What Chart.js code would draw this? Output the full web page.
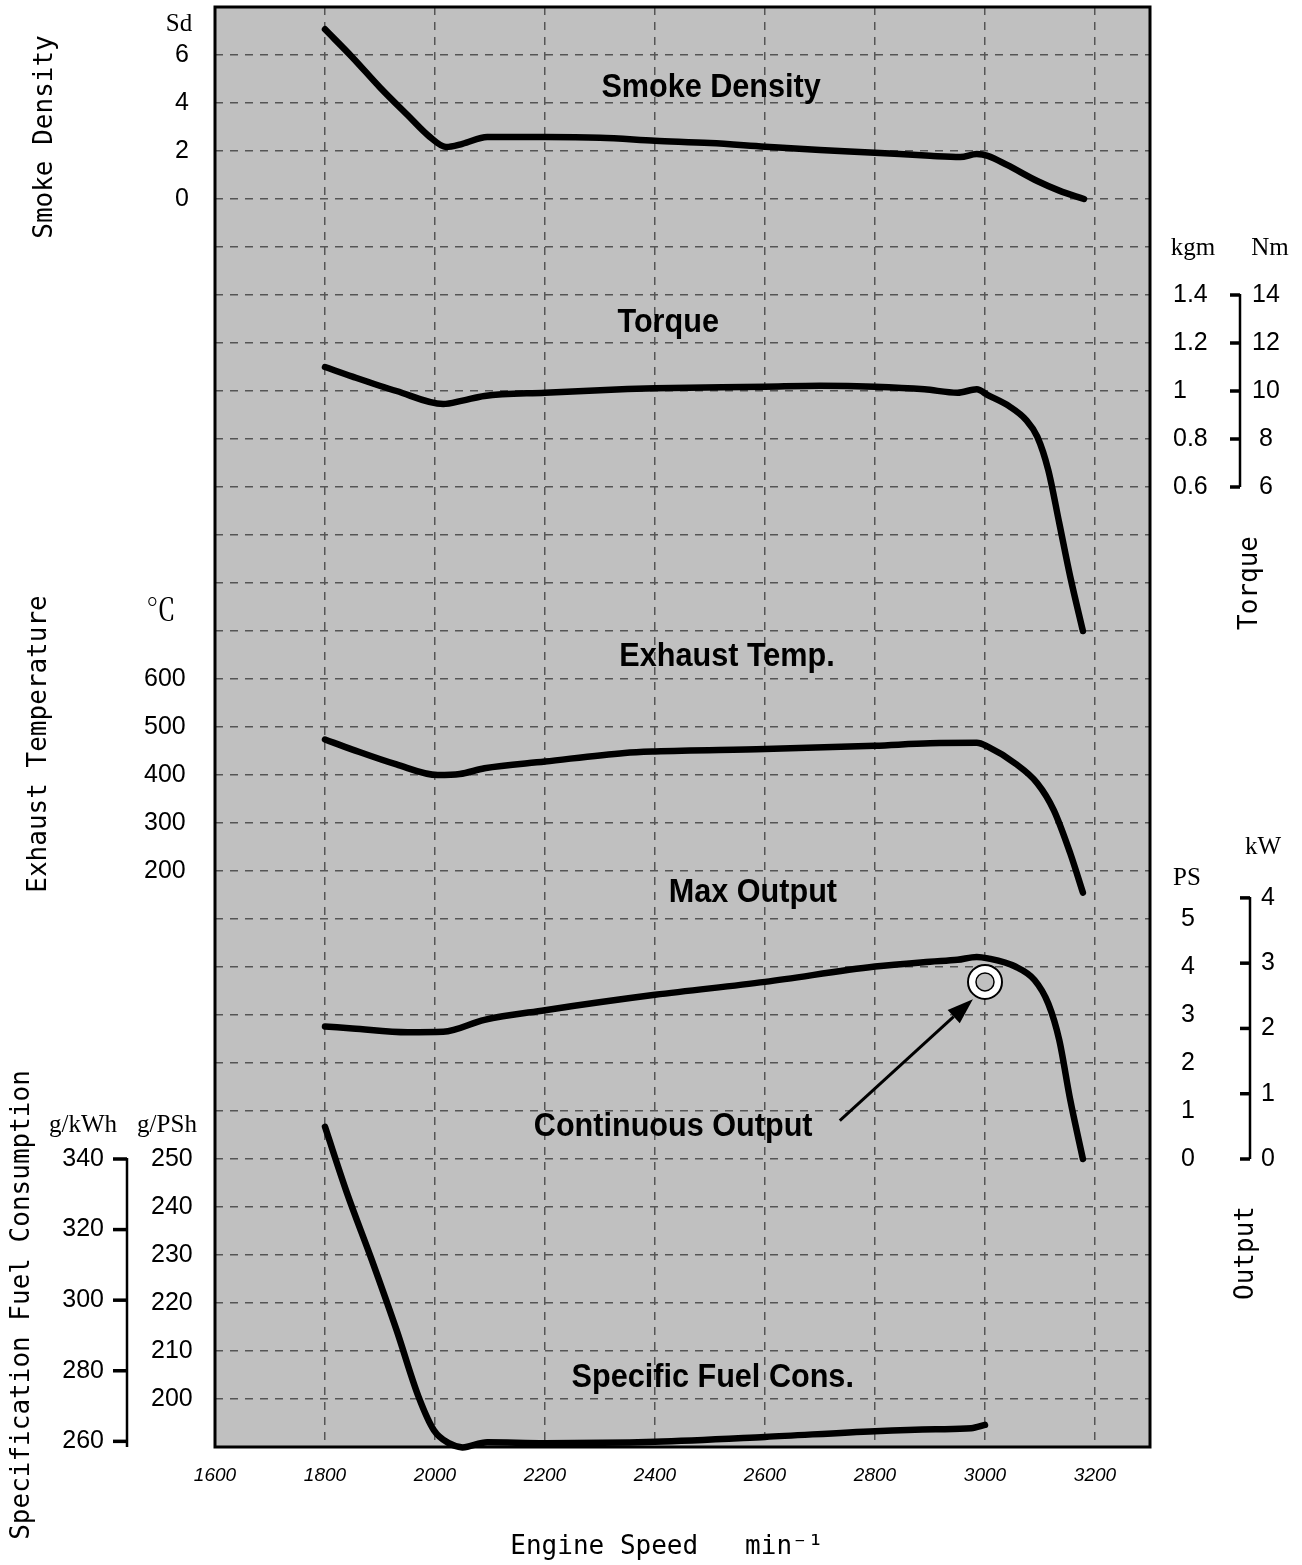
<!DOCTYPE html>
<html>
<head>
<meta charset="utf-8">
<title>Engine performance curves</title>
<script src="https://cdn.jsdelivr.net/npm/chart.js@4.4.1/dist/chart.umd.min.js"></script>
<style>
  html, body { margin: 0; padding: 0; background: #fff; }
  #wrap { position: relative; width: 1302px; height: 1565px; }
</style>
</head>
<body>
<div id="wrap"><canvas id="perfChart"></canvas></div>
<script>
// tick labels
const rpmTicks = [1600, 1800, 2000, 2200, 2400, 2600, 2800, 3000, 3200];
const smokeTicks = [0, 2, 4, 6];
const kgmTicks = [0.6, 0.8, 1, 1.2, 1.4];
const nmTicks = [6, 8, 10, 12, 14];
const tempTicks = [200, 300, 400, 500, 600];
const psTicks = [0, 1, 2, 3, 4, 5];
const kwTicks = [0, 1, 2, 3, 4];
const pshTicks = [200, 210, 220, 230, 240, 250];
const kwhTicks = [260, 280, 300, 320, 340];
const gridRows = [0, 1, 2, 3, 4, 5, 6, 7, 8, 9, 10, 11, 12, 13, 14, 15, 16, 17, 18, 19, 20, 21, 22, 23, 24, 25, 26, 27, 28, 29, 30];

// curves
const smokeRpm = [1800, 1850, 1900, 1950, 1990, 2020, 2050, 2095, 2200, 2300, 2400, 2500, 2600, 2700, 2800, 2900, 2955, 2985, 3005, 3040, 3095, 3135, 3180];
const smokeSd = [7.07, 5.9, 4.65, 3.5, 2.6, 2.17, 2.3, 2.58, 2.58, 2.55, 2.43, 2.33, 2.18, 2.04, 1.93, 1.8, 1.75, 1.87, 1.8, 1.42, 0.75, 0.35, 0];

const torqueRpm = [1800, 1850, 1930, 2015, 2050, 2090, 2200, 2350, 2400, 2600, 2700, 2800, 2890, 2950, 2985, 3005, 3045, 3075, 3095, 3115, 3135, 3155, 3178];
const torqueKgm = [1.1, 1.06, 1.0, 0.946, 0.96, 0.979, 0.993, 1.008, 1.011, 1.018, 1.022, 1.018, 1.007, 0.993, 1.007, 0.983, 0.935, 0.879, 0.81, 0.671, 0.45, 0.226, 0];

const exhaustRpm = [1800, 1850, 1930, 2005, 2045, 2090, 2200, 2345, 2400, 2600, 2800, 2900, 2985, 3005, 3055, 3095, 3125, 3155, 3178];
const exhaustC = [474, 453, 422, 400, 402, 414, 428, 446, 449, 454, 461, 466, 467, 459, 424, 383, 327, 237, 155];

const outputRpm = [1800, 1850, 1950, 2015, 2090, 2200, 2400, 2600, 2800, 2900, 2950, 2985, 3005, 3055, 3090, 3115, 3135, 3155, 3178];
const outputPs = [2.76, 2.72, 2.64, 2.65, 2.9, 3.1, 3.42, 3.69, 4.01, 4.11, 4.15, 4.21, 4.18, 4.01, 3.73, 3.24, 2.48, 1.23, 0];

const fuelRpm = [1800, 1840, 1885, 1930, 1970, 1998, 2025, 2050, 2095, 2200, 2400, 2600, 2800, 2910, 2975, 3000];
const fuelPsh = [256.7, 242.9, 229.0, 214.4, 200.5, 193.5, 190.8, 189.9, 191.0, 190.8, 191.1, 192.1, 193.3, 193.7, 193.9, 194.6];

const contRpm = [3000];
const contPs = [3.69];

const black = '#000';
const plotGray = '#c0c0c0';
const gridGray = '#555';
const numFont = { family: "'Liberation Sans', Arial, sans-serif", size: 25 };
const unitFont = "25px 'Liberation Serif', 'Times New Roman', 'Noto Serif CJK JP', serif";
const titleFont = "26px 'DejaVu Sans Mono', monospace";
const noteFont = "bold 34px 'Liberation Sans', Arial, sans-serif";

function zip(xs, ys) {
  return xs.map((x, i) => ({ x: x, y: ys[i] }));
}

function curve(label, xs, ys, axis) {
  return {
    label: label,
    data: zip(xs, ys),
    yAxisID: axis,
    borderColor: black,
    borderWidth: 6.5,
    pointRadius: 0,
    cubicInterpolationMode: 'monotone',
    borderCapStyle: 'round',
    borderJoinStyle: 'round',
    clip: false,
    order: 3
  };
}

// value axes share the plot height; labels are placed with padding
// (mirror = true keeps Chart.js from clipping labels to a zero-width box)
function valueAxis(o) {
  return {
    type: 'linear',
    position: o.position,
    min: o.min,
    max: o.max,
    weight: o.weight,
    grid: { display: false, drawTicks: false },
    border: { display: false },
    ticks: {
      color: black,
      font: numFont,
      padding: o.padding,
      mirror: !!o.mirror,
      autoSkip: false,
      crossAlign: o.align || 'near',
      callback: v => String(v)
    },
    afterBuildTicks: s => { s.ticks = o.ticks.map(v => ({ value: v })); },
    afterFit: s => {
      s.width = o.width;
      s.paddingTop = 0;
      s.paddingBottom = 0;
    }
  };
}

function vText(ctx, text, x, y) {
  ctx.save();
  ctx.translate(x, y);
  ctx.rotate(-Math.PI / 2);
  ctx.textAlign = 'center';
  ctx.textBaseline = 'middle';
  ctx.fillText(text, 0, 0);
  ctx.restore();
}

function bracket(ctx, scale, ticks, lineX, tickLen, bottomY) {
  const ys = ticks.map(v => scale.getPixelForValue(v));
  const top = Math.min(...ys);
  const bottom = bottomY !== undefined ? bottomY : Math.max(...ys);
  ctx.save();
  ctx.strokeStyle = black;
  ctx.lineWidth = 2.5;
  ctx.beginPath();
  ctx.moveTo(lineX, top - 1);
  ctx.lineTo(lineX, bottom);
  ctx.stroke();
  ctx.lineWidth = 3.5;
  ys.forEach(y => {
    ctx.beginPath();
    ctx.moveTo(lineX - tickLen, y);
    ctx.lineTo(lineX, y);
    ctx.stroke();
  });
  ctx.restore();
}

const decor = {
  id: 'decor',
  beforeDraw(chart) {
    const { ctx, chartArea: a } = chart;
    ctx.save();
    ctx.fillStyle = plotGray;
    ctx.fillRect(a.left, a.top, a.right - a.left, a.bottom - a.top);
    ctx.restore();
  },
  afterDraw(chart) {
    const { ctx, chartArea: a, scales } = chart;

    // frame
    ctx.save();
    ctx.strokeStyle = black;
    ctx.lineWidth = 3;
    ctx.strokeRect(a.left, a.top, a.right - a.left, a.bottom - a.top);
    ctx.restore();

    // scale brackets
    bracket(ctx, scales.kwh, kwhTicks, a.left - 88, 14, a.bottom);
    bracket(ctx, scales.nm, nmTicks, a.right + 90, 10);
    bracket(ctx, scales.kw, kwTicks, a.right + 100, 10);

    // units
    ctx.save();
    ctx.fillStyle = black;
    ctx.font = unitFont;
    ctx.textAlign = 'center';
    ctx.textBaseline = 'middle';
    ctx.fillText('Sd', 179, 24);
    ctx.fillText('g/kWh', 83, 1125);
    ctx.fillText('g/PSh', 167, 1125);
    ctx.fillText('kgm', 1193, 248);
    ctx.fillText('Nm', 1270, 248);
    ctx.fillText('PS', 1187, 878);
    ctx.fillText('kW', 1263, 847);
    ctx.font = "30px 'Liberation Serif', 'Noto Serif CJK JP', serif";
    ctx.fillText('℃', 161, 612);

    // axis titles
    ctx.font = titleFont;
    vText(ctx, 'Smoke Density', 45, 137);
    vText(ctx, 'Exhaust Temperature', 39, 744);
    vText(ctx, 'Specification Fuel Consumption', 22, 1305);
    vText(ctx, 'Torque', 1250, 583);
    vText(ctx, 'Output', 1246, 1253);

    // curve names, placed in rpm / grid-row units, slightly condensed
    const notes = [
      ['Smoke Density', 2502, 28.31],
      ['Torque', 2424, 23.42],
      ['Exhaust Temp.', 2531, 16.46],
      ['Max Output', 2578, 11.54],
      ['Continuous Output', 2433, 6.67],
      ['Specific Fuel Cons.', 2505, 1.44]
    ];
    ctx.font = noteFont;
    notes.forEach(([t, x, r]) => {
      ctx.save();
      ctx.translate(scales.x.getPixelForValue(x), scales.grid.getPixelForValue(r));
      ctx.scale(0.9, 1);
      ctx.fillText(t, 0, 0);
      ctx.restore();
    });

    // arrow to the continuous output point
    const x0 = scales.x.getPixelForValue(2736), y0 = scales.ps.getPixelForValue(0.8);
    const x1 = scales.x.getPixelForValue(2978), y1 = scales.ps.getPixelForValue(3.33);
    const ang = Math.atan2(y1 - y0, x1 - x0);
    const headLen = 26, headW = 9;
    const bx = x1 - headLen * Math.cos(ang), by = y1 - headLen * Math.sin(ang);
    ctx.strokeStyle = black;
    ctx.lineWidth = 3;
    ctx.beginPath();
    ctx.moveTo(x0, y0);
    ctx.lineTo(bx, by);
    ctx.stroke();
    ctx.beginPath();
    ctx.moveTo(x1, y1);
    ctx.lineTo(bx + headW * Math.sin(ang), by - headW * Math.cos(ang));
    ctx.lineTo(bx - headW * Math.sin(ang), by + headW * Math.cos(ang));
    ctx.closePath();
    ctx.fill();
    ctx.restore();
  }
};

new Chart(document.getElementById('perfChart'), {
  type: 'line',
  data: {
    datasets: [
      curve('Smoke Density', smokeRpm, smokeSd, 'smoke'),
      curve('Torque', torqueRpm, torqueKgm, 'kgm'),
      curve('Exhaust Temp.', exhaustRpm, exhaustC, 'temp'),
      curve('Max Output', outputRpm, outputPs, 'ps'),
      curve('Specific Fuel Cons.', fuelRpm, fuelPsh, 'psh'),
      {
        label: 'Continuous Output',
        data: zip(contRpm, contPs),
        yAxisID: 'ps',
        showLine: false,
        pointRadius: 17,
        pointBackgroundColor: '#fff',
        pointBorderColor: black,
        pointBorderWidth: 2,
        clip: false,
        order: 2
      },
      {
        label: 'Continuous Output core',
        data: zip(contRpm, contPs),
        yAxisID: 'ps',
        showLine: false,
        pointRadius: 9,
        pointBackgroundColor: plotGray,
        pointBorderColor: black,
        pointBorderWidth: 1.5,
        clip: false,
        order: 1
      }
    ]
  },
  options: {
    responsive: true,
    maintainAspectRatio: false,
    animation: false,
    layout: { autoPadding: false, padding: { top: 7, left: 0, right: 0, bottom: 0 } },
    plugins: {
      legend: { display: false },
      tooltip: { enabled: false }
    },
    scales: {
      x: {
        type: 'linear',
        position: 'bottom',
        min: 1600,
        max: 3300,
        grid: { color: gridGray, lineWidth: 1.5, drawTicks: false },
        border: { display: false, dash: [8, 7] },
        ticks: {
          color: black,
          font: { family: "'Liberation Sans', Arial, sans-serif", size: 19, style: 'italic' },
          padding: 17,
          maxRotation: 0,
          autoSkip: false,
          callback: v => String(v)
        },
        title: {
          display: true,
          text: 'Engine Speed   min⁻¹  ',
          color: black,
          font: { family: "'DejaVu Sans Mono', monospace", size: 26 },
          padding: { top: 0, bottom: 2 }
        },
        afterBuildTicks: s => { s.ticks = rpmTicks.map(v => ({ value: v })); },
        afterFit: s => { s.height = 118; }
      },
      grid: {
        type: 'linear',
        position: 'left',
        min: 0,
        max: 30,
        weight: 0,
        ticks: { display: false },
        grid: { color: gridGray, lineWidth: 1.5, drawTicks: false },
        border: { display: false, dash: [8, 7] },
        afterBuildTicks: s => { s.ticks = gridRows.map(v => ({ value: v })); },
        afterFit: s => { s.width = 0; s.paddingTop = 0; s.paddingBottom = 0; }
      },
      smoke: valueAxis({ position: 'left', min: -52, max: 8, ticks: smokeTicks, padding: -40, mirror: true, width: 0, weight: 1 }),
      temp: valueAxis({ position: 'left', min: -1000, max: 2000, ticks: tempTicks, padding: -71, mirror: true, width: 0, weight: 2 }),
      psh: valueAxis({ position: 'left', min: 190, max: 490, ticks: pshTicks, padding: -64, mirror: true, width: 0, weight: 3 }),
      kwh: valueAxis({ position: 'left', min: 190 * 1.36, max: 490 * 1.36, ticks: kwhTicks, padding: 111, width: 215, weight: 10 }),
      ps: valueAxis({ position: 'right', min: -6, max: 24, ticks: psTicks, padding: 45, mirror: true, width: 0, weight: 0 }),
      kw: valueAxis({ position: 'right', min: -6 / 1.36, max: 24 / 1.36, ticks: kwTicks, padding: 125, mirror: true, width: 0, weight: 1 }),
      kgm: valueAxis({ position: 'right', min: -3.4, max: 2.6, ticks: kgmTicks, padding: 23, width: 60, weight: 2 }),
      nm: valueAxis({ position: 'right', min: -34, max: 26, ticks: nmTicks, padding: 42, width: 92, weight: 5, align: 'center' })
    }
  },
  plugins: [decor]
});
</script>
</body>
</html>
